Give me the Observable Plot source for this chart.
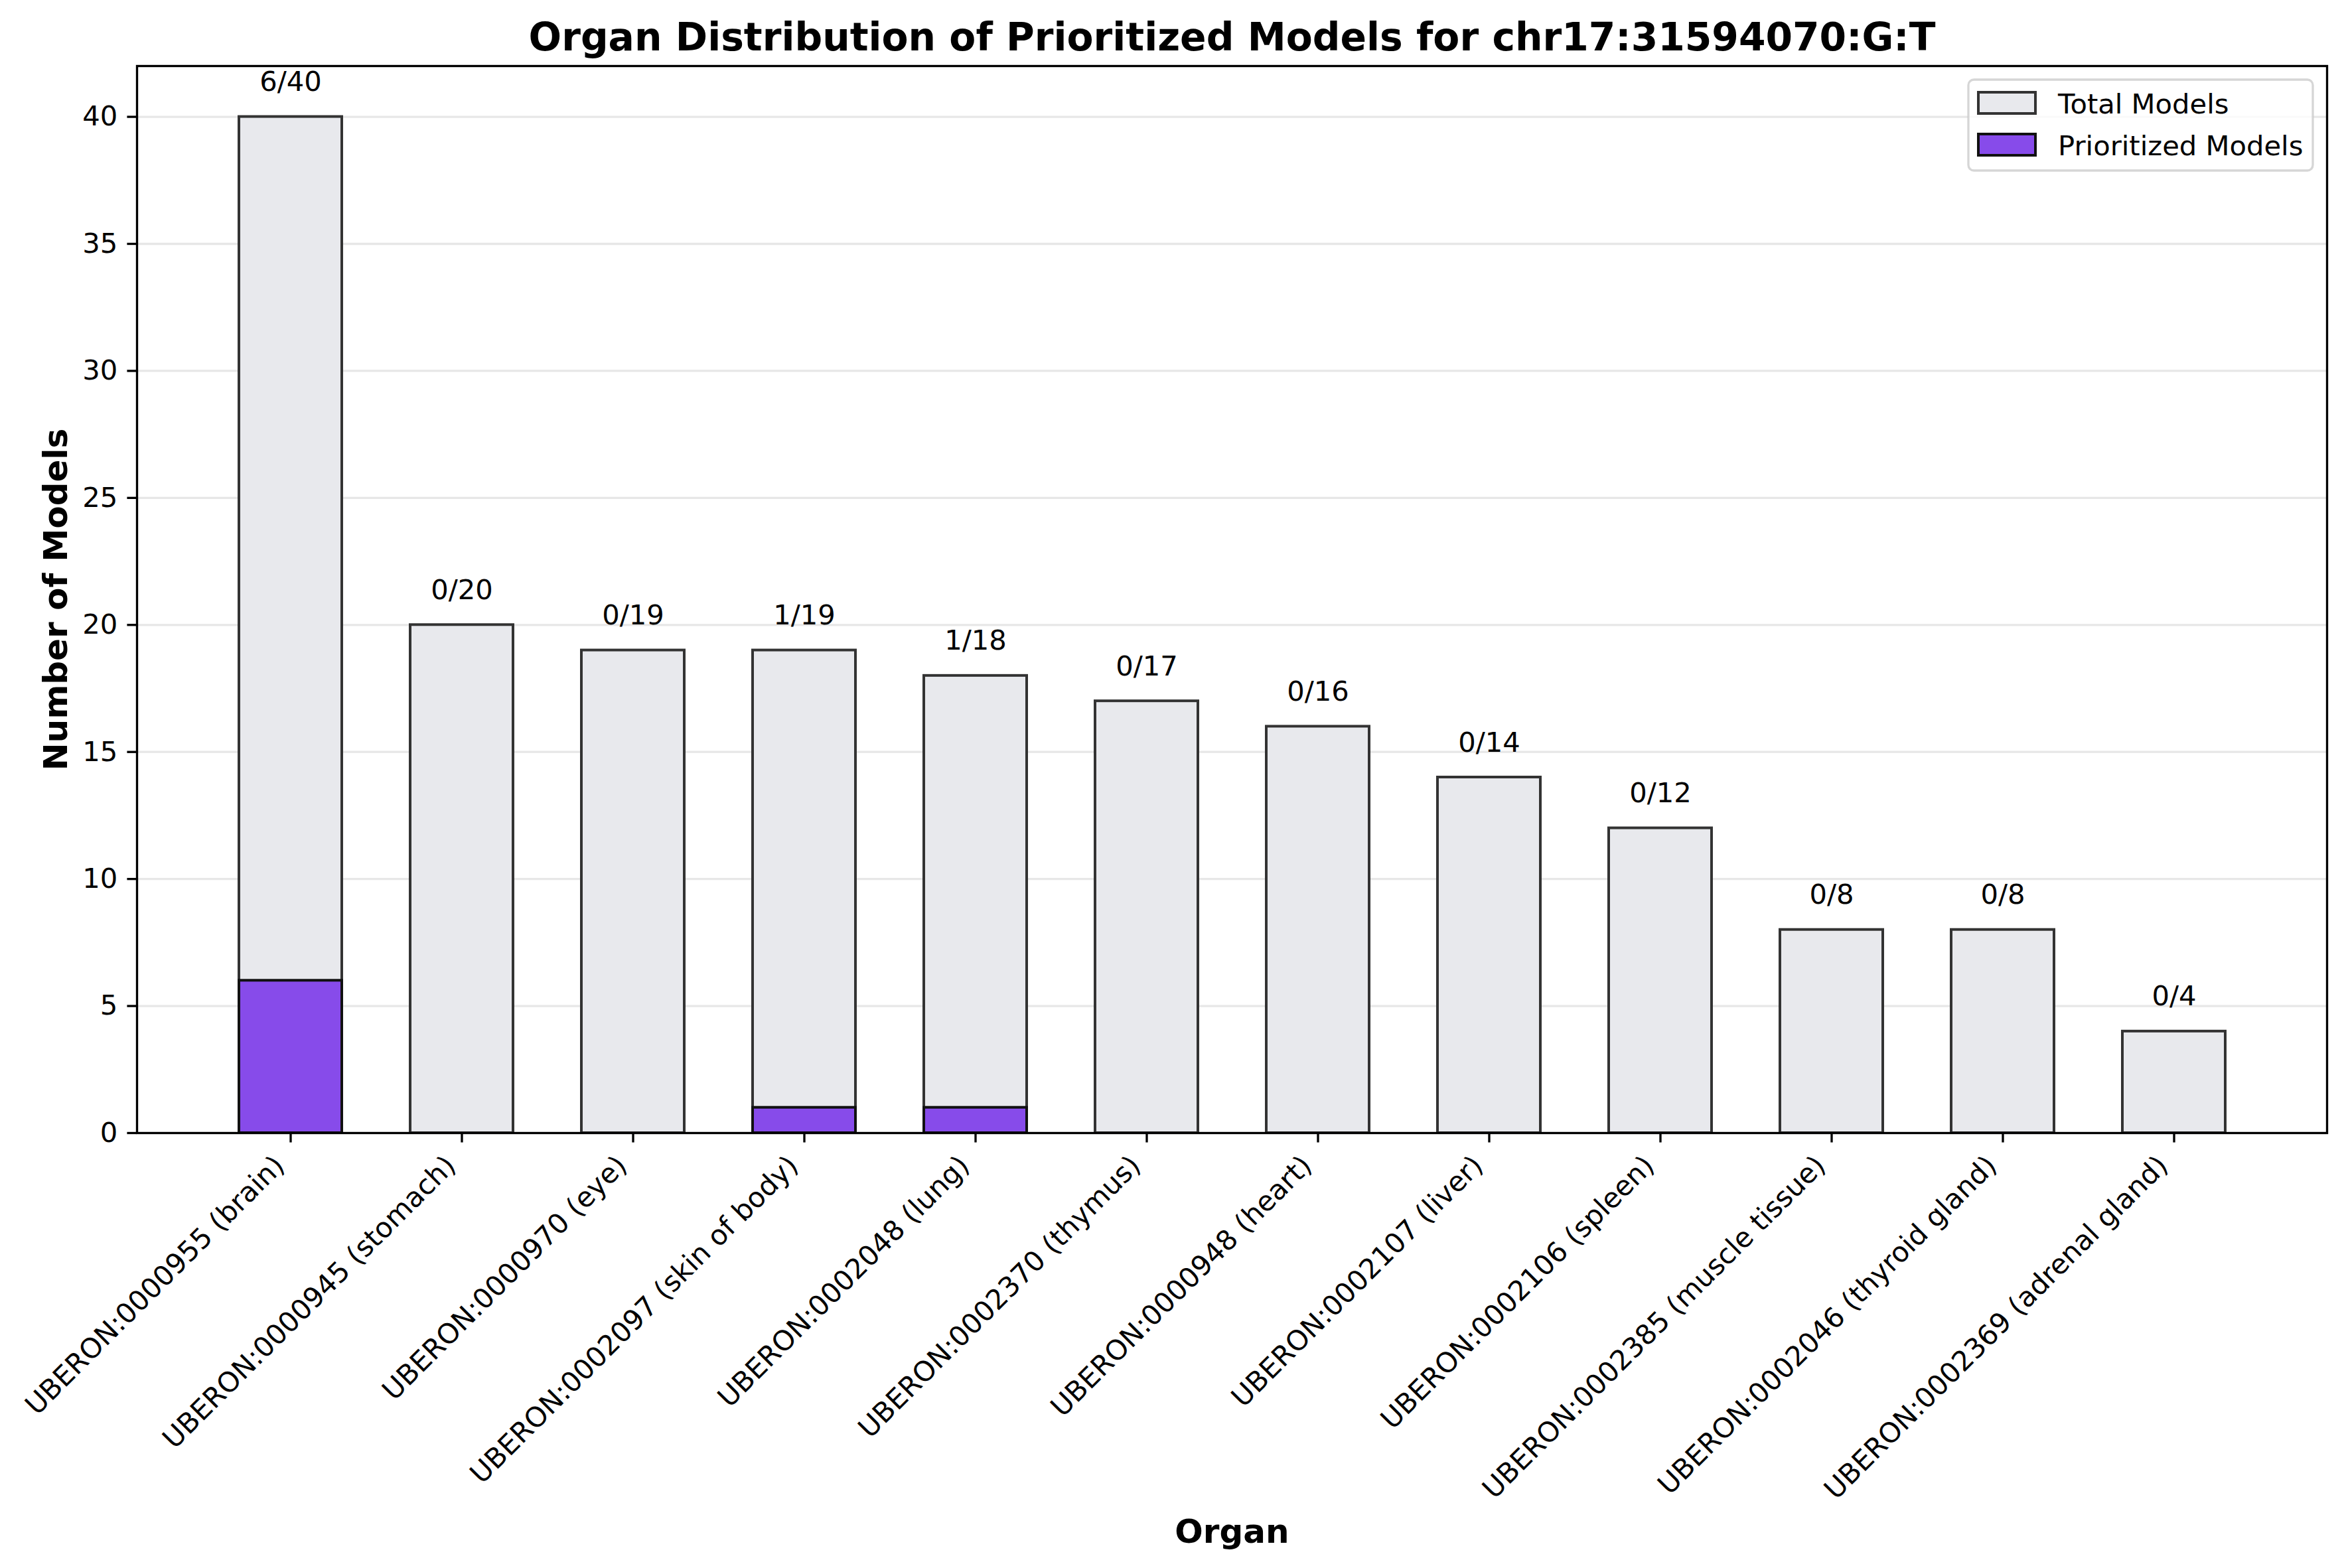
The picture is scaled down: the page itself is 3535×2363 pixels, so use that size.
<!DOCTYPE html>
<html>
<head>
<meta charset="utf-8">
<script src="https://cdn.jsdelivr.net/npm/d3@7"></script>
<script src="https://cdn.jsdelivr.net/npm/@observablehq/plot@0.6"></script>
<style>
  html, body { margin: 0; padding: 0; background: white; }
  #chart svg { display: block; }
</style>
</head>
<body>
<div id="chart"></div>
<script>
// ---- data ----
const organs = [
  "UBERON:0000955 (brain)",
  "UBERON:0000945 (stomach)",
  "UBERON:0000970 (eye)",
  "UBERON:0002097 (skin of body)",
  "UBERON:0002048 (lung)",
  "UBERON:0002370 (thymus)",
  "UBERON:0000948 (heart)",
  "UBERON:0002107 (liver)",
  "UBERON:0002106 (spleen)",
  "UBERON:0002385 (muscle tissue)",
  "UBERON:0002046 (thyroid gland)",
  "UBERON:0002369 (adrenal gland)"
];
const totalModels = [40, 20, 19, 19, 18, 17, 16, 14, 12, 8, 8, 4];
const prioritizedModels = [6, 0, 0, 1, 1, 0, 0, 0, 0, 0, 0, 0];
const yTicks = [0, 5, 10, 15, 20, 25, 30, 35, 40];
const titleText = "Organ Distribution of Prioritized Models for chr17:31594070:G:T";
const xLabel = "Organ";
const yLabel = "Number of Models";
const legendLabels = ["Total Models", "Prioritized Models"];

// ---- styles ----
const totalFill = "#e8e9ed";
const totalStroke = "#333333";
const prioFill = "#874bea";
const prioStroke = "#111111";
const FONT = "DejaVu Sans";
const fs = 41.7;
const edgeW = 4.0;

const rows = organs.map((o, i) => ({organ: o, total: totalModels[i], prio: prioritizedModels[i]}));

const W = 3535, H = 2363;
const mL = 206, mR = 29, mT = 99, mB = 656;

const chart = Plot.plot({
  width: W,
  height: H,
  marginLeft: mL,
  marginRight: mR,
  marginTop: mT,
  marginBottom: mB,
  style: {fontFamily: FONT, fontSize: fs + "px", color: "black", background: "white"},
  x: {type: "band", domain: organs, paddingInner: 0.4, paddingOuter: 0.58, align: 0.5, axis: null},
  y: {domain: [0, 42], axis: null},
  marks: [
    Plot.gridY(yTicks, {stroke: "#b0b0b0", strokeOpacity: 0.3, strokeWidth: 3.3}),
    Plot.barY(rows, {x: "organ", y: "total", fill: totalFill, stroke: totalStroke, strokeWidth: edgeW}),
    Plot.barY(rows.filter(d => d.prio > 0), {x: "organ", y: "prio", fill: prioFill, stroke: prioStroke, strokeWidth: edgeW}),
    Plot.text(rows, {x: "organ", y: "total", text: d => `${d.prio}/${d.total}`, dy: -39, lineAnchor: "bottom", fontSize: fs, fill: "black"}),
    Plot.frame({stroke: "black", strokeWidth: 3.33}),
    Plot.axisY({ticks: yTicks, tickSize: 14.6, tickPadding: 14.6, strokeWidth: 3.33, fontSize: fs, label: null, anchor: "left"}),
    Plot.axisX({tickSize: 14.6, strokeWidth: 3.33, tickFormat: () => "", label: null, anchor: "bottom"}),
    Plot.text(rows, {x: "organ", frameAnchor: "bottom", text: "organ", rotate: -45, textAnchor: "end", lineAnchor: "middle", dx: -16.5, dy: 42, fontSize: fs, fill: "black"}),
    Plot.text([titleText], {frameAnchor: "top", text: d => d, textAnchor: "middle", dy: -24, lineAnchor: "bottom", fontSize: 58.3, fontWeight: "bold", fill: "black"}),
    Plot.text([xLabel], {frameAnchor: "bottom", text: d => d, textAnchor: "middle", dy: 617, lineAnchor: "bottom", fontSize: 50, fontWeight: "bold", fill: "black"}),
    Plot.text([yLabel], {frameAnchor: "left", text: d => d, textAnchor: "middle", dx: -106, rotate: -90, lineAnchor: "bottom", fontSize: 50, fontWeight: "bold", fill: "black"})
  ]
});

// ---- legend (upper right) ----
const svg = d3.select(chart);
const lg = svg.append("g").attr("font-family", FONT).attr("font-size", fs).attr("text-anchor", "start");
lg.append("rect").attr("x", 2966).attr("y", 120).attr("width", 519).attr("height", 137)
  .attr("rx", 8.3).attr("ry", 8.3)
  .attr("fill", "white").attr("fill-opacity", 0.8)
  .attr("stroke", "#cccccc").attr("stroke-opacity", 0.8).attr("stroke-width", 3.3);
const items = [
  {label: legendLabels[0], fill: totalFill, stroke: totalStroke, y: 139},
  {label: legendLabels[1], fill: prioFill, stroke: prioStroke, y: 202}
];
items.forEach(it => {
  lg.append("rect").attr("x", 2981).attr("y", it.y).attr("width", 86).attr("height", 32)
    .attr("fill", it.fill).attr("stroke", it.stroke).attr("stroke-width", edgeW);
  lg.append("text").attr("x", 3101).attr("y", it.y + 32).attr("fill", "black")
    .attr("text-anchor", "start").text(it.label);
});

document.getElementById("chart").appendChild(chart);
</script>
</body>
</html>
